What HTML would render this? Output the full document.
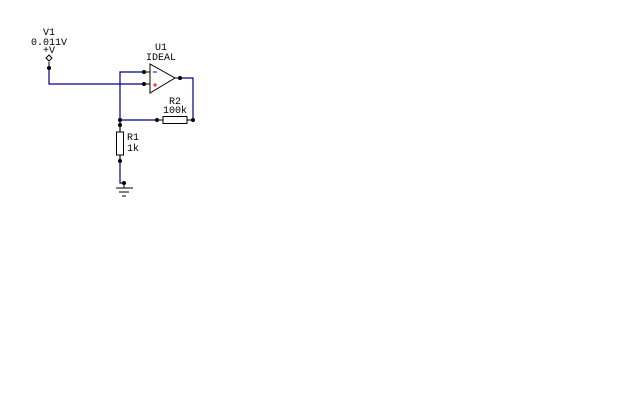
<!DOCTYPE html><html><head><style>body{margin:0;background:#fff}svg{display:block}text{font-family:"Liberation Mono",monospace;font-size:10px;fill:#000}</style></head><body>
<svg width="640" height="400" viewBox="0 0 640 400">
<g stroke="#00008b" stroke-width="1.2" fill="none">
<polyline points="49,68 49,84 144,84"/>
<polyline points="144,72 120,72 120,183 124,183"/>
<line x1="120" y1="120" x2="157" y2="120"/>
<polyline points="180,78 193,78 193,120"/>
</g>
<g stroke="#000" stroke-width="1" fill="none">
<line x1="49" y1="62" x2="49" y2="68"/>
<polygon points="49,55 52,58 49,61 46,58" fill="#fff"/>
<polygon points="150,64 150,93 175,78" fill="#fff"/>
<line x1="144" y1="72" x2="150" y2="72"/><line x1="144" y1="84" x2="150" y2="84"/>
<line x1="175" y1="78" x2="180" y2="78"/>
<rect x="163" y="116.5" width="24" height="7" fill="#fff"/>
<line x1="157" y1="120" x2="163" y2="120"/><line x1="187" y1="120" x2="193" y2="120"/>
<rect x="116.5" y="132" width="7" height="23" fill="#fff"/>
<line x1="120" y1="125" x2="120" y2="132"/><line x1="120" y1="155" x2="120" y2="161"/>
<line x1="124" y1="183" x2="124" y2="188"/>
<line x1="116" y1="188" x2="133" y2="188"/>
<line x1="119" y1="192" x2="129" y2="192"/>
<line x1="122" y1="196" x2="126" y2="196"/>
</g>
<line x1="153" y1="72" x2="157" y2="72" stroke="#00f"/>
<line x1="153" y1="85" x2="157" y2="85" stroke="#f00"/><line x1="155" y1="83" x2="155" y2="87" stroke="#f00"/>
<g fill="#000">
<circle cx="49" cy="68" r="2"/><circle cx="144" cy="72" r="2"/><circle cx="144" cy="84" r="2"/>
<circle cx="180" cy="78" r="2"/><circle cx="193" cy="120" r="2"/><circle cx="157" cy="120" r="2"/>
<circle cx="120" cy="120" r="2"/><circle cx="120" cy="125" r="2"/><circle cx="120" cy="161" r="2"/><circle cx="124" cy="183" r="2"/>
</g>
<text x="49" y="35" text-anchor="middle">V1</text>
<text x="49" y="45" text-anchor="middle">0.011V</text>
<text x="49" y="53" text-anchor="middle">+V</text>
<text x="161" y="50" text-anchor="middle">U1</text>
<text x="161" y="60" text-anchor="middle">IDEAL</text>
<text x="175" y="104" text-anchor="middle">R2</text>
<text x="175" y="113" text-anchor="middle">100k</text>
<text x="127" y="140">R1</text>
<text x="127" y="151">1k</text>
</svg></body></html>
